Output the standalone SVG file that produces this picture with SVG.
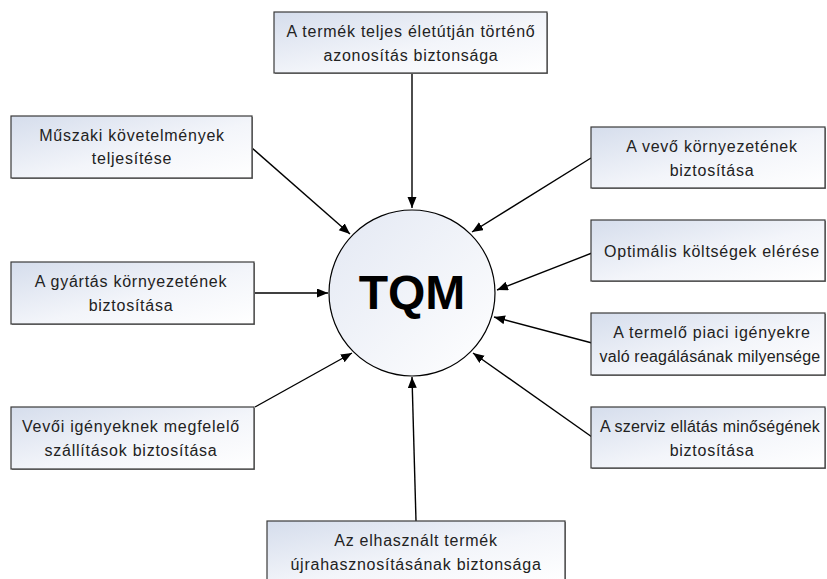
<svg xmlns="http://www.w3.org/2000/svg" width="827" height="579" viewBox="0 0 827 579">
<defs>
<linearGradient id="boxg" x1="0" y1="0" x2="1" y2="1">
<stop offset="0" stop-color="#d5ddec"/>
<stop offset="0.55" stop-color="#f3f5fa"/>
<stop offset="1" stop-color="#ffffff"/>
</linearGradient>
<linearGradient id="circg" x1="0" y1="0" x2="1" y2="1">
<stop offset="0" stop-color="#e3e8f3"/>
<stop offset="1" stop-color="#ffffff"/>
</linearGradient>
<marker id="ah" markerUnits="userSpaceOnUse" markerWidth="12" markerHeight="10" refX="11" refY="4.5" orient="auto">
<path d="M0,0 L11,4.5 L0,9 Z" fill="#000"/>
</marker>
</defs>
<style>
.box{fill:url(#boxg);stroke:#3a3a3a;stroke-width:1.2}
.sh{fill:#8a8a8a}
.t{font-family:"Liberation Sans",Arial,sans-serif;font-size:16px;fill:#222;text-anchor:middle;letter-spacing:0.75px}
.tn{letter-spacing:0.2px}
.c{stroke:#000;stroke-width:1.4;fill:none;marker-end:url(#ah)}
</style>
<rect width="827" height="579" fill="#fff"/>
<g id="connectors">
<line class="c" x1="412" y1="73" x2="412" y2="208"/>
<line class="c" x1="252" y1="148" x2="350" y2="234"/>
<line class="c" x1="255" y1="293" x2="328" y2="293"/>
<line class="c" x1="255" y1="407" x2="352" y2="353"/>
<line class="c" x1="416" y1="521" x2="412" y2="377"/>
<line class="c" x1="591" y1="158" x2="472" y2="232"/>
<line class="c" x1="592" y1="253" x2="497" y2="290"/>
<line class="c" x1="592" y1="343" x2="494" y2="317"/>
<line class="c" x1="592" y1="437" x2="473" y2="353"/>
</g>
<g id="tqm">
<circle cx="412" cy="293" r="83" fill="url(#circg)" stroke="#000" stroke-width="1.2"/>
<text x="412" y="309" font-family="Liberation Sans,Arial,sans-serif" font-size="48" font-weight="bold" text-anchor="middle" fill="#000">TQM</text>
</g>
<g id="n-top">
<rect class="sh" x="275" y="13" width="273" height="61"/>
<rect class="box" x="274" y="12" width="273" height="61"/>
<text class="t" x="411" y="37">A termék teljes életútján történő</text>
<text class="t" x="411" y="61">azonosítás biztonsága</text>
</g>
<g id="n-muszaki">
<rect class="sh" x="12" y="117" width="241" height="62"/>
<rect class="box" x="11" y="116" width="241" height="62"/>
<text class="t" x="132" y="141">Műszaki követelmények</text>
<text class="t" x="132" y="164">teljesítése</text>
</g>
<g id="n-gyartas">
<rect class="sh" x="12" y="263" width="243" height="62"/>
<rect class="box" x="11" y="262" width="243" height="62"/>
<text class="t" x="131" y="287">A gyártás környezetének</text>
<text class="t" x="131" y="311">biztosítása</text>
</g>
<g id="n-vevoi">
<rect class="sh" x="12" y="408" width="243" height="62"/>
<rect class="box" x="11" y="407" width="243" height="62"/>
<text class="t" x="131" y="432">Vevői igényeknek megfelelő</text>
<text class="t" x="131" y="456">szállítások biztosítása</text>
</g>
<g id="n-bottom">
<rect class="sh" x="268" y="522" width="298" height="62"/>
<rect class="box" x="267" y="521" width="298" height="62"/>
<text class="t" x="416" y="546">Az elhasznált termék</text>
<text class="t" x="416" y="570">újrahasznosításának biztonsága</text>
</g>
<g id="n-vevo">
<rect class="sh" x="592" y="128" width="234" height="61"/>
<rect class="box" x="591" y="127" width="234" height="61"/>
<text class="t" x="712" y="152">A vevő környezetének</text>
<text class="t" x="712" y="176">biztosítása</text>
</g>
<g id="n-optimalis">
<rect class="sh" x="592" y="221" width="234" height="61"/>
<rect class="box" x="591" y="220" width="234" height="61"/>
<text class="t" x="712" y="257">Optimális költségek elérése</text>
</g>
<g id="n-termelo">
<rect class="sh" x="592" y="314" width="234" height="62"/>
<rect class="box" x="591" y="313" width="234" height="62"/>
<text class="t" x="712" y="338">A termelő piaci igényekre</text>
<text class="t tn" x="710" y="362">való reagálásának milyensége</text>
</g>
<g id="n-szerviz">
<rect class="sh" x="592" y="408" width="234" height="61"/>
<rect class="box" x="591" y="407" width="234" height="61"/>
<text class="t tn" x="710" y="432">A szerviz ellátás minőségének</text>
<text class="t" x="712" y="456">biztosítása</text>
</g>
</svg>
